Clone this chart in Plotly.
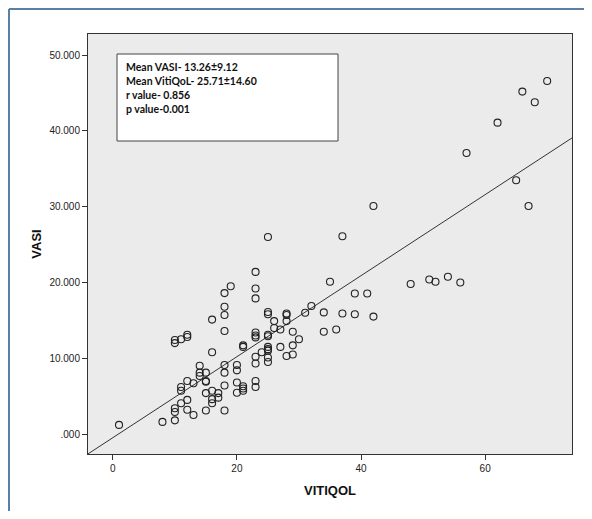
import plotly.graph_objects as go

# VITIQOL (x) and VASI (y) values
vitiqol = [1, 8, 10, 10, 10, 10, 10, 11, 11, 11, 11, 12, 12, 12, 12, 12, 13, 13,
           14, 14, 14, 15, 15, 15, 15, 15, 16, 16, 16, 16, 16, 17, 17,
           18, 18, 18, 18, 18, 18, 18, 18, 19, 20, 20, 20, 20, 21, 21, 21, 21, 21,
           23, 23, 23, 23, 23, 23, 23, 23, 23, 23, 24,
           25, 25, 25, 25, 25, 25, 25, 25, 25, 25, 26, 26, 27, 27,
           28, 28, 28, 28, 29, 29, 29, 30, 31, 32, 34, 34, 35, 36, 37, 37,
           39, 39, 41, 42, 42, 48, 51, 52, 54, 56, 57, 62, 65, 66, 67, 68, 70]
vasi = [1.2, 1.6, 1.8, 2.9, 3.4, 12.0, 12.4, 4.05, 5.7, 6.2, 12.5, 3.2, 4.5, 7.0, 12.8, 13.1, 2.5, 6.7,
        7.65, 8.1, 9.0, 3.1, 5.4, 6.9, 7.0, 8.1, 4.05, 4.6, 5.7, 10.8, 15.1, 4.8, 5.4,
        3.1, 6.4, 8.1, 9.1, 13.6, 15.7, 16.8, 18.6, 19.5, 5.45, 6.8, 8.4, 9.1, 5.7, 6.0, 6.3, 11.5, 11.7,
        6.2, 7.0, 9.3, 10.2, 12.75, 13.0, 13.4, 17.9, 19.2, 21.4, 10.8,
        9.5, 10.1, 11.0, 11.2, 11.5, 12.9, 13.1, 15.8, 16.1, 26.0, 14.0, 14.9, 11.5, 13.8,
        10.3, 14.9, 15.7, 15.9, 10.5, 11.7, 13.5, 12.5, 16.0, 16.9, 13.5, 16.05, 20.1, 13.8, 15.9, 26.1,
        15.8, 18.55, 18.55, 15.5, 30.1, 19.8, 20.4, 20.1, 20.75, 20.0, 37.1, 41.1, 33.5, 45.2, 30.1, 43.8, 46.6]

# Summary statistics shown in the box
mean_vasi, sd_vasi = 13.26, 9.12
mean_vq, sd_vq = 25.71, 14.60
r_value = 0.856
p_value = "0.001"

stat_lines = [
    f"Mean VASI- {mean_vasi:.2f}\u00b1{sd_vasi:.2f}",
    f"Mean VitiQoL- {mean_vq:.2f}\u00b1{sd_vq:.2f}",
    f"r value- {r_value:.3f}",
    f"p value-{p_value}",
]

x_ticks = [0, 20, 40, 60]
y_ticks = [0, 10, 20, 30, 40, 50]
y_ticktext = [".000", "10.000", "20.000", "30.000", "40.000", "50.000"]

x_range = [-4.0, 74.0]
y_range = [-2.64, 52.8]

# regression line from the stated statistics
slope = r_value * sd_vasi / sd_vq
intercept = mean_vasi - slope * mean_vq
line_x = x_range
line_y = [intercept + slope * v for v in line_x]

fig = go.Figure()
fig.add_trace(go.Scatter(x=line_x, y=line_y, mode="lines",
                         line=dict(color="#333333", width=1), hoverinfo="skip",
                         showlegend=False))
fig.add_trace(go.Scatter(x=vitiqol, y=vasi, mode="markers",
                         marker=dict(symbol="circle-open", size=7,
                                     color="#222222", line=dict(width=1.1)),
                         showlegend=False))

# page has an 8px body margin; figure sized to fit the window exactly
OFF = 8
W, H = 592 - 2 * OFF, 519 - 2 * OFF
L, T = 88 - OFF, 34 - OFF
R = W - (572 - OFF)
B = H - (454 - OFF)
pw, ph = W - L - R, H - T - B

def px(xp):  # page pixel -> paper x
    return (xp - OFF - L) / pw

def py(yp):  # page pixel -> paper y
    return (H - B - (yp - OFF)) / ph

fig.update_layout(
    width=W, height=H,
    margin=dict(l=L, r=R, t=T, b=B),
    paper_bgcolor="white",
    plot_bgcolor="#ebebeb",
    font=dict(family="Liberation Sans, Arial, sans-serif", size=10, color="#222222"),
    xaxis=dict(range=x_range, tickvals=x_ticks, ticks="outside", ticklen=5,
               tickcolor="#333333", showgrid=False, zeroline=False,
               showline=True, linecolor="#333333", linewidth=1, mirror=True,
               tickfont=dict(size=10, color="#222222"),
               title=dict(text="<b>VITIQOL</b>", font=dict(size=13, color="#111111"),
                          standoff=12)),
    yaxis=dict(range=y_range, tickvals=y_ticks, ticktext=y_ticktext, ticks="outside",
               ticklen=5, tickcolor="#333333", showgrid=False, zeroline=False,
               showline=True, linecolor="#333333", linewidth=1, mirror=True,
               tickfont=dict(size=10, color="#222222"),
               title=dict(text="<b>VASI</b>", font=dict(size=13, color="#111111"),
                          standoff=4)),
)

# statistics box
fig.add_shape(type="rect", xref="paper", yref="paper",
              x0=px(117), x1=px(338), y0=py(141), y1=py(54),
              fillcolor="white", line=dict(color="#444444", width=1))
for i, txt in enumerate(stat_lines):
    fig.add_annotation(xref="paper", yref="paper", x=px(124), y=py(67 + 14 * i),
                       text=f"<b>{txt}</b>", showarrow=False, xanchor="left",
                       yanchor="middle",
                       font=dict(family="Lato, Open Sans, sans-serif", size=10.5,
                                 color="#111111"))

# outer frame (left and top edges visible)
fig.add_shape(type="line", xref="paper", yref="paper",
              x0=px(9), x1=px(9), y0=py(9), y1=py(530),
              line=dict(color="#5b7fa6", width=2))
fig.add_shape(type="line", xref="paper", yref="paper",
              x0=px(9), x1=px(620), y0=py(9), y1=py(9),
              line=dict(color="#5b7fa6", width=2))

fig.write_html("out.html")
